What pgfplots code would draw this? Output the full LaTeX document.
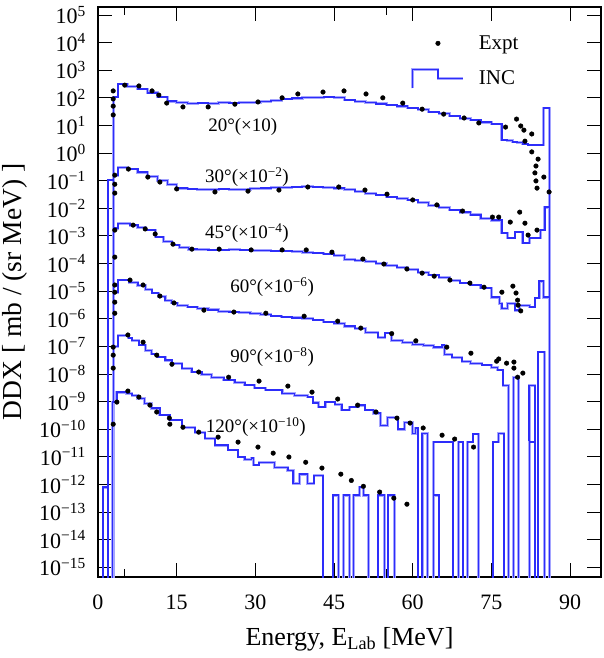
\documentclass[border=0pt]{standalone}
\usepackage{pgfplots}
\pgfplotsset{compat=1.18}
\usepackage{fontspec}
\setmainfont{Liberation Serif}
\definecolor{inccol}{RGB}{45,45,250}
\definecolor{incglow}{RGB}{165,165,255}
\pgfplotsset{inc/.style={const plot, draw=inccol, line width=1.3pt, preaction={draw=incglow, line width=2.8pt}}}
\begin{document}
\begin{tikzpicture}
\begin{axis}[
  scale only axis, width=503pt, height=570pt,
  xmin=0, xmax=95.9,
  ymode=log, log basis y=10, ymin=4.4e-16, ymax=1.95e5,
  xtick={0,15,30,45,60,75,90}, minor xtick={5,55},
  ytick={1e-15,1e-14,1e-13,1e-12,1e-11,1e-10,1e-9,1e-8,1e-7,1e-6,1e-5,1e-4,1e-3,1e-2,1e-1,1,1e1,1e2,1e3,1e4,1e5},
  yticklabels={10\textsuperscript{−15},10\textsuperscript{−14},10\textsuperscript{−13},10\textsuperscript{−12},10\textsuperscript{−11},10\textsuperscript{−10},10\textsuperscript{−9},10\textsuperscript{−8},10\textsuperscript{−7},10\textsuperscript{−6},10\textsuperscript{−5},10\textsuperscript{−4},10\textsuperscript{−3},10\textsuperscript{−2},10\textsuperscript{−1},10\textsuperscript{0},10\textsuperscript{1},10\textsuperscript{2},10\textsuperscript{3},10\textsuperscript{4},10\textsuperscript{5}},
  /pgf/number format/assume math mode=true,
  tick align=inside, major tick length=14pt, minor tick length=8pt,
  tick style={black, line width=0.8pt},
  axis line style={black, line width=1.3pt},
  xticklabel style={font=\fontsize{22}{22}\selectfont, anchor=base, yshift=-32pt},
  yticklabel style={font=\fontsize{22}{22}\selectfont, anchor=east, inner sep=0pt, xshift=-12pt},
  xlabel={Energy, E\textsubscript{Lab} [MeV]},
  ylabel={DDX [ mb / (sr MeV) ]},
  every axis x label/.style={at={(axis description cs:0.5,-0.1193)}, anchor=base, font=\fontsize{26}{26}\selectfont},
  every axis y label/.style={at={(axis description cs:-0.153,0.5)}, rotate=90, anchor=base, font=\fontsize{27.5}{27.5}\selectfont},
  legend style={draw=none, fill=none, at={(axis description cs:0.622,0.95)}, anchor=north west,
    font=\fontsize{21}{21}\selectfont, inner sep=0pt, row sep=17pt, column sep=14pt, nodes={inner sep=0pt}},
  legend cell align=left, reverse legend,
]
% ---------------- INC histograms ----------------
\addplot[inc,
  legend image code/.code={\draw[incglow, line width=2.8pt] (0pt,-10pt) -- (0pt,9pt) -- (25.5pt,9pt) -- (25.5pt,0pt) -- (51pt,0pt);
    \draw[inccol, line width=1.3pt] (0pt,-10pt) -- (0pt,9pt) -- (25.5pt,9pt) -- (25.5pt,0pt) -- (51pt,0pt);}]
coordinates {(2.9,1e-25) (2.9,107) (3.8,316) (5.6,263) (7.6,209) (9.5,151) (11.4,107) (13.2,75.9) (15,66.1) (17,63.1) (19,64.6) (21,63.1) (23,66.1) (25,64.6) (27,67.6) (29,69.2) (31,72.4) (33,79.4) (35,91.2) (37,97.7) (39,100) (41,105) (43,107) (45,100) (47,83.2) (49,74.1) (51,66.1) (53,60.3) (55,55) (57,50.1) (59,42.7) (61,37.2) (63,30.9) (65,26.3) (67,21.9) (69,18.2) (71,15.8) (73,13.2) (75,11.2) (77,2.95) (78,2.82) (79,2.51) (80,2.4) (81,2.14) (82,1.95) (85,42.7) (86.1,1e-25)};
\addlegendentry{INC}
\addplot[inc, forget plot]
coordinates {(1.9,1e-25) (1.9,0.105) (2.9,0.158) (3.8,0.302) (5.6,0.263) (7.6,0.204) (9.5,0.141) (11.4,0.1) (13.2,0.0708) (15,0.0537) (17,0.0501) (19,0.0479) (21,0.049) (23,0.0501) (25,0.0479) (27,0.049) (29,0.0513) (31,0.0537) (33,0.0562) (35,0.0575) (37,0.0589) (39,0.0603) (41,0.0589) (43,0.0575) (45,0.0537) (47,0.0468) (49,0.0398) (51,0.0347) (53,0.0302) (55,0.0257) (57,0.0224) (59,0.02) (61,0.0158) (63,0.0126) (65,0.0105) (67,0.00871) (69,0.00724) (71,0.00575) (73,0.00437) (75,0.00372) (77,0.00126) (78.1,0.000832) (79.5,0.00138) (81,0.00055) (82.3,0.000832) (84.3,0.00162) (85.2,0.011) (86.1,1e-25)};
\addplot[inc, forget plot]
coordinates {(2.9,1e-25) (2.9,1.91e-3) (3.8,2.88e-3) (6.1,2.45e-3) (7.6,2.0e-3) (9.0,1.62e-3) (10.9,9.12e-4) (12.5,6.31e-4) (14.1,4.68e-4) (15.6,3.80e-4) (17.2,3.31e-4) (19,3.16e-4) (21,3.09e-4) (23,3.09e-4) (25,3.16e-4) (27,3.09e-4) (29,3.02e-4) (31,2.95e-4) (33,2.82e-4) (35,2.82e-4) (37,2.69e-4) (39,2.57e-4) (41,2.40e-4) (43,2.19e-4) (45,1.91e-4) (47,1.41e-4) (49,1.26e-4) (51,1.15e-4) (53,1.0e-4) (55,8.32e-5) (57,7.24e-5) (59,6.03e-5) (61,4.79e-5) (63,3.80e-5) (65,3.02e-5) (67,2.40e-5) (69,1.95e-5) (71,1.66e-5) (73,1.29e-5) (75,6.03e-6) (76.5,3.55e-6) (77,2.40e-6) (78.1,3.55e-6) (79.5,2.04e-6) (80.4,3.09e-6) (82.3,2.63e-6) (83.3,5.62e-6) (84.1,2.29e-5) (85,6.03e-6) (86.1,1e-25)};
\addplot[inc, forget plot]
coordinates {(2.9,1e-25) (2.9,9.12e-6) (3.8,2.51e-5) (5.9,2.0e-5) (7.6,1.58e-5) (9.0,1.12e-5) (10.3,8.51e-6) (11.6,6.31e-6) (12.8,4.68e-6) (14.0,3.72e-6) (15.2,3.09e-6) (17,2.63e-6) (19,2.34e-6) (21,2.09e-6) (23,1.86e-6) (25,1.74e-6) (27,1.66e-6) (29,1.58e-6) (31,1.41e-6) (33,1.26e-6) (35,1.15e-6) (37,1.07e-6) (39,1.0e-6) (41,8.91e-7) (43,7.59e-7) (45,6.61e-7) (47,5.37e-7) (49,4.37e-7) (51,3.16e-7) (53.4,2.09e-7) (54.7,3.02e-7) (56,1.66e-7) (58,1.41e-7) (60,1.17e-7) (62,1.05e-7) (64,9.33e-8) (65.6,1.12e-7) (66.1,5.01e-8) (67.5,3.98e-8) (69.4,2.82e-8) (71,2.40e-8) (73.2,2.09e-8) (75,1.66e-8) (76.2,1.38e-8) (77.2,3.89e-9) (78.2,1e-25) (79.15,7.59e-9) (80.2,1e-25) (82.2,3.89e-9) (83.3,1e-25) (83.9,6.17e-8) (85.1,1e-25) (86.1,1e-25)};
\addplot[inc, forget plot]
coordinates {(2.9,1e-25) (2.9,1.0e-7) (3.8,2.51e-7) (5.8,2.0e-7) (6.5,1.66e-7) (7.8,1.12e-7) (9.0,7.24e-8) (10.2,5.25e-8) (11.4,4.07e-8) (12.8,3.16e-8) (14.1,2.45e-8) (16,1.58e-8) (17.9,1.17e-8) (19.8,9.33e-9) (21.7,7.59e-9) (24,6.03e-9) (26.1,5.01e-9) (28,3.98e-9) (29.9,3.09e-9) (32,2.63e-9) (35.1,2.0e-9) (37.5,1.66e-9) (40,1.45e-9) (41,8.91e-10) (42,6.31e-10) (43.3,9.55e-10) (45.2,7.94e-10) (46.5,4.90e-10) (48,6.31e-10) (49.6,7.41e-10) (50.9,4.90e-10) (52.5,3.80e-10) (53.9,1.38e-10) (55.2,2.69e-10) (57.2,1.0e-10) (58.5,1.78e-10) (59.9,7.08e-11) (60.5,1.10e-10) (61,1e-25) (61.8,7.08e-11) (62.8,1e-25) (63.9,3.39e-11) (67.7,1e-25) (68.7,3.39e-11) (69.6,1e-25) (70.4,3.39e-11) (71.5,6.61e-11) (72.6,1e-25) (75.3,3.39e-11) (76.3,7.08e-11) (77.4,1e-25) (82.3,3.39e-11) (83.3,1e-25) (86.1,1e-25)};
\addplot[inc, forget plot]
coordinates {(0.95,1e-25) (0.95,7.94e-13) (1.9,1e-25) (2.7,9.55e-10) (3.6,2.19e-9) (5.5,2.0e-9) (6.5,1.70e-9) (7.6,1.32e-9) (8.9,8.71e-10) (10.2,5.75e-10) (11.8,3.24e-10) (13.7,2.14e-10) (16,1.17e-10) (18.5,7.76e-11) (20.4,4.68e-11) (22.3,2.63e-11) (24.8,1.74e-11) (26.7,9.77e-12) (28,7.94e-12) (29.3,8.91e-12) (29.7,5.01e-12) (30.7,6.31e-12) (33.7,4.17e-12) (36.2,3.24e-12) (37.2,1.10e-12) (38.4,2.34e-12) (40,1.10e-12) (41.2,2.14e-12) (42.9,1e-25) (44.8,4.07e-13) (45.8,1e-25) (46.8,4.07e-13) (47.9,1e-25) (48.7,4.07e-13) (49.8,7.94e-13) (50.6,4.07e-13) (51.6,1e-25) (53.4,4.07e-13) (54.6,1e-25) (55.3,4.07e-13) (56.5,1e-25) (63.9,4.07e-13) (65,1e-25) (86.1,1e-25)};
% ---------------- Experimental points ----------------
\addplot[only marks, mark=*, mark size=2.3pt, black,
  legend image code/.code={\fill[black] (25.5pt,0pt) circle (2.3pt);}]
coordinates {(2.9,178) (2.9,91.2) (2.9,50.1) (2.9,24.0) (5.1,288) (7.8,269) (10.3,178) (11.6,126) (13.1,64.6) (16.2,46.8) (21.0,46.8) (26.1,58.9) (30.5,70.8) (35.1,100) (38.1,138) (42.9,162) (46.9,178) (51.1,138) (54.3,100) (58.1,64.6) (61.8,38.9) (65.9,25.7) (69.8,18.6) (72.6,12.3) (77.7,8.71) (79.8,17.0) (80.6,9.55) (81.2,6.76) (82.7,4.90) (81.4,2.69) (82.7,1.10) (83.9,0.603) (83.5,0.339) (83.3,0.191) (83.5,0.0977) (83.7,0.0537) (85.0,0.135) (86.0,0.0389)};
\addlegendentry{Expt}
\addplot[only marks, mark=*, mark size=2.3pt, black, forget plot]
coordinates {(3.2,0.158) (3.2,0.0741) (3.2,0.0355) (5.8,0.263) (9.5,0.135) (11.8,0.0891) (15.0,0.0501) (22.3,0.0389) (28.6,0.0417) (34.5,0.0457) (40.0,0.0589) (45.9,0.0589) (50.9,0.0457) (55.1,0.0324) (60.0,0.02) (64.6,0.0132) (69.5,0.00794) (75.2,0.00479) (76.4,0.00479) (78.6,0.00316) (80.4,0.00724) (81.4,0.00288) (82.0,0.00107) (83.7,0.00162)};
\addplot[only marks, mark=*, mark size=2.3pt, black, forget plot]
coordinates {(3.2,1.62e-3) (3.2,1.70e-4) (6.7,2.45e-3) (9.0,1.78e-3) (10.9,1.17e-3) (14.3,5.01e-4) (17.9,3.31e-4) (23.1,3.31e-4) (29.2,3.09e-4) (35.1,3.09e-4) (39.7,3.09e-4) (44.6,2.57e-4) (50.5,1.45e-4) (54.5,9.55e-5) (58.9,6.31e-5) (61.8,4.47e-5) (64.1,3.47e-5) (67.1,2.51e-5) (70.9,1.95e-5) (73.6,1.38e-5) (77.0,9.12e-6) (79.1,1.51e-5) (79.7,8.51e-6) (80.0,4.68e-6) (80.1,3.09e-6) (80.6,1.91e-6)};
\addplot[only marks, mark=*, mark size=2.3pt, black, forget plot]
coordinates {(3.2,1.66e-5) (3.2,9.12e-6) (3.2,3.98e-6) (3.2,1.58e-6) (6.1,2.51e-5) (8.6,1.66e-5) (11.8,6.61e-6) (14.5,3.72e-6) (20.2,2.04e-6) (25.9,1.74e-6) (32.0,1.58e-6) (39.3,1.23e-6) (45.7,8.13e-7) (50.1,4.57e-7) (56.0,2.88e-7) (60.6,1.58e-7) (66.5,9.33e-8) (71.1,5.62e-8) (76.0,2.88e-8) (76.4,3.47e-8) (77.9,2.45e-8) (79.3,2.69e-8) (79.3,1.62e-8) (80.0,7.59e-9) (81.0,1.07e-8)};
\addplot[only marks, mark=*, mark size=2.3pt, black, forget plot]
coordinates {(2.9,9.33e-8) (2.9,4.79e-8) (2.9,1.62e-8) (5.7,2.57e-7) (8.6,1.41e-7) (11.2,4.79e-8) (14.1,2.24e-8) (19.2,1.17e-8) (24.9,7.59e-9) (30.7,5.50e-9) (36.2,3.63e-9) (40.8,2.19e-9) (45.7,1.23e-9) (49.5,7.41e-10) (53.0,4.17e-10) (57.0,2.51e-10) (59.5,1.66e-10) (62.0,1.10e-10) (65.6,6.03e-11) (68.0,4.37e-11) (71.6,2.24e-11)};
\addplot[only marks, mark=*, mark size=2.3pt, black, forget plot]
coordinates {(2.9,1.51e-10) (3.6,9.55e-10) (5.7,2.40e-9) (7.8,1.45e-9) (9.9,7.41e-10) (11.2,4.17e-10) (13.6,2.51e-10) (13.7,1.51e-10) (16.2,1.17e-10) (19.2,7.76e-11) (22.9,5.13e-11) (26.7,3.39e-11) (30.5,2.24e-11) (33.4,1.35e-11) (36.4,9.77e-12) (39.6,6.31e-12) (42.7,3.89e-12) (46.3,2.34e-12) (48.3,1.38e-12) (50.6,8.51e-13) (53.7,5.25e-13) (56.4,3.16e-13) (58.9,1.91e-13)};
% ---------------- annotations ----------------
\begin{scope}[every node/.style={font=\fontsize{19}{19}\selectfont}]
\node at (axis cs:27.6,8.7) {20°(×10)};
\node at (axis cs:28.4,1.35e-1) {30°(×10\textsuperscript{−2})};
\node at (axis cs:28.4,1.26e-3) {45°(×10\textsuperscript{−4})};
\node at (axis cs:33.2,1.38e-5) {60°(×10\textsuperscript{−6})};
\node at (axis cs:33.2,4.1e-8) {90°(×10\textsuperscript{−8})};
\node at (axis cs:30.1,1.17e-10) {120°(×10\textsuperscript{−10})};
\end{scope}
\end{axis}
\pgfresetboundingbox
\path ([shift={(-98pt,-81pt)}]current axis.south west) rectangle ([shift={(3pt,7pt)}]current axis.north east);
\end{tikzpicture}
\end{document}
